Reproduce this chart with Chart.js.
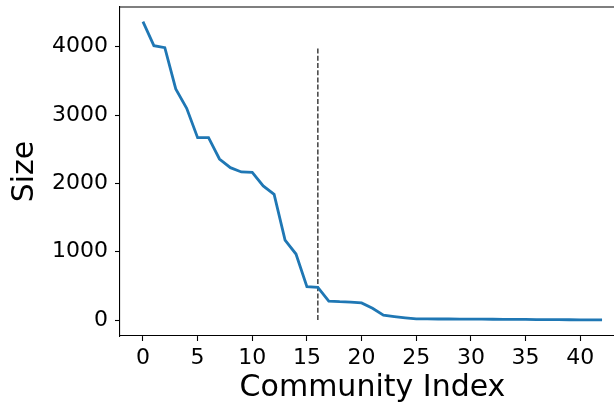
<!DOCTYPE html>
<html>
<head>
<meta charset="utf-8">
<script src="https://cdn.jsdelivr.net/npm/chart.js@4"></script>
<style>
  html, body { margin: 0; padding: 0; background: #fff; overflow: hidden; }
  #wrap { width: 614px; height: 404px; overflow: hidden; position: relative; }
</style>
</head>
<body>
<div id="wrap"><canvas id="chart" width="625" height="404"></canvas></div>
<script>
// Community sizes, sorted descending
const communityIndex = [];
for (let i = 0; i <= 42; i++) communityIndex.push(i);
const communitySize = [
    4367, 4016, 3987, 3382, 3100, 2669, 2669, 2357, 2230, 2167,
    2162, 1962, 1840, 1171, 966, 488, 478, 278, 268, 262,
    250, 171, 70, 50, 32, 16, 16, 15, 15, 14,
    13, 12, 11, 10, 9, 8, 7, 6, 5, 4,
    3, 3, 2
];
// dashed cut-off marker
const cutX = [16, 16];
const cutY = [0, 4000];

const xTicks = [0, 5, 10, 15, 20, 25, 30, 35, 40];
const yTicks = [0, 1000, 2000, 3000, 4000];

const FONT = "'DejaVu Sans', sans-serif";

// top and right spines (the right one falls just outside the 614px window, like the reference)
const boxSpines = {
    id: 'boxSpines',
    afterDraw(chart) {
        const { ctx, chartArea } = chart;
        ctx.save();
        ctx.strokeStyle = '#000';
        ctx.lineWidth = 1.1;
        ctx.beginPath();
        ctx.moveTo(chartArea.left, chartArea.top);
        ctx.lineTo(chartArea.right, chartArea.top);
        ctx.lineTo(chartArea.right, chartArea.bottom);
        ctx.stroke();
        ctx.restore();
    }
};

new Chart(document.getElementById('chart'), {
    type: 'line',
    data: {
        datasets: [
            {
                data: communityIndex.map((x, i) => ({ x, y: communitySize[i] })),
                borderColor: '#1f77b4',
                borderWidth: 2.8,
                pointRadius: 0,
                tension: 0,
                fill: false
            },
            {
                data: cutX.map((x, i) => ({ x, y: cutY[i] })),
                borderColor: '#333',
                borderWidth: 1.4,
                borderDash: [5, 2.2],
                pointRadius: 0,
                fill: false
            }
        ]
    },
    options: {
        responsive: false,
        animation: false,
        layout: { padding: { left: 0, right: 0, top: 7, bottom: 0 } },
        plugins: { legend: { display: false }, tooltip: { enabled: false } },
        scales: {
            x: {
                type: 'linear',
                min: -2.1,
                max: 44.1,
                afterFit: (s) => { s.height = 68; s.paddingLeft = 0; s.paddingRight = 0; },
                afterBuildTicks: (s) => { s.ticks = xTicks.map(v => ({ value: v })); },
                ticks: {
                    color: '#000',
                    font: { family: FONT, size: 22 },
                    padding: 4,
                    maxRotation: 0,
                    callback: (v) => String(v)
                },
                grid: { drawOnChartArea: false, drawTicks: true, tickLength: 5, tickColor: '#000', tickWidth: 1.1 },
                border: { display: true, color: '#000', width: 1.1 },
                title: {
                    display: true,
                    text: 'Community Index',
                    color: '#000',
                    font: { family: FONT, size: 30, lineHeight: 1.0 },
                    padding: { top: 0, bottom: 1 }
                }
            },
            y: {
                type: 'linear',
                min: -234,
                max: 4582,
                afterFit: (s) => { s.width = 120; s.paddingTop = 0; s.paddingBottom = 0; },
                afterBuildTicks: (s) => { s.ticks = yTicks.map(v => ({ value: v })); },
                ticks: {
                    color: '#000',
                    font: { family: FONT, size: 22 },
                    padding: 7,
                    callback: (v) => String(v)
                },
                grid: { drawOnChartArea: false, drawTicks: true, tickLength: 5, tickColor: '#000', tickWidth: 1.1 },
                border: { display: true, color: '#000', width: 1.1 },
                title: {
                    display: true,
                    text: 'Size',
                    color: '#000',
                    font: { family: FONT, size: 30 },
                    padding: { top: 7, bottom: 0 }
                }
            }
        }
    },
    plugins: [boxSpines]
});
</script>
</body>
</html>
